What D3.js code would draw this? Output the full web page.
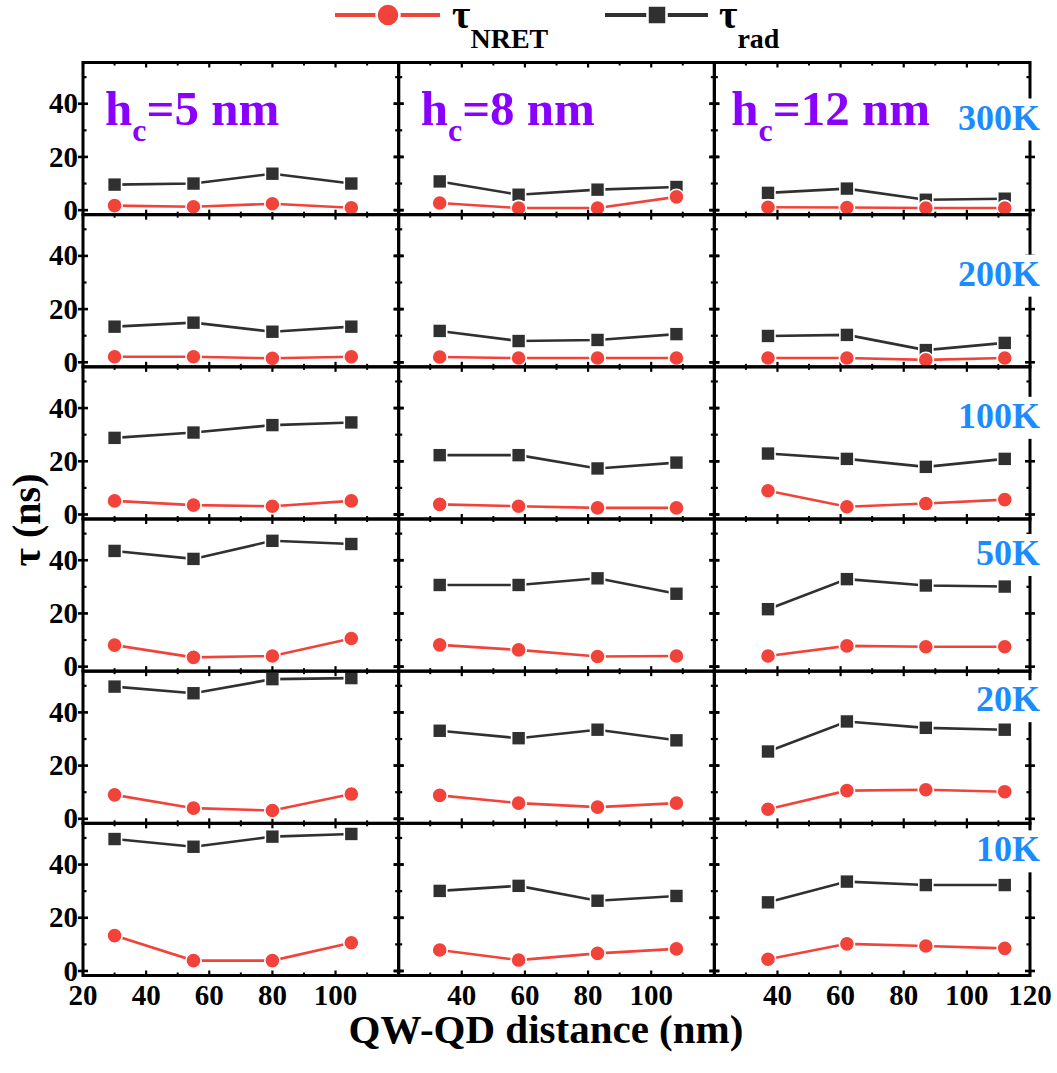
<!DOCTYPE html>
<html>
<head>
<meta charset="utf-8">
<script src="https://cdn.jsdelivr.net/npm/d3@7/dist/d3.min.js"></script>
<style>
  html, body { margin: 0; padding: 0; background: #fff; }
  svg { display: block; }
</style>
</head>
<body>
<svg id="chart" width="1057" height="1073"></svg>
<script>
// ---- data ----
const temperatures = ["300K", "200K", "100K", "50K", "20K", "10K"];
const capThickness = [5, 8, 12];               // h_c in nm, one per column
const distances = [                             // QW-QD distance (nm) per column
  [30, 55, 80, 105],
  [33, 58, 83, 108],
  [37, 62, 87, 112]
];
// lifetimes in ns, [row = temperature][column = h_c][point]
const tauNRET = [
  [[1.7, 1.3, 2.4, 0.9], [2.7, 0.8, 0.8, 5.0], [1.1, 1.0, 0.8, 0.8]],
  [[2.1, 2.1, 1.5, 2.1], [2.0, 1.6, 1.6, 1.6], [1.6, 1.6, 0.9, 1.6]],
  [[5.1, 3.5, 3.1, 5.1], [3.8, 3.1, 2.5, 2.5], [8.9, 2.9, 4.1, 5.6]],
  [[8.1, 3.5, 4.0, 10.6], [8.2, 6.3, 3.8, 4.0], [4.0, 7.8, 7.5, 7.5]],
  [[9.0, 4.0, 3.1, 9.3], [8.8, 5.9, 4.4, 5.9], [3.6, 10.6, 10.9, 10.2]],
  [[13.3, 3.9, 3.9, 10.6], [7.9, 4.1, 6.6, 8.3], [4.4, 10.2, 9.4, 8.5]]
];
const tauRad = [
  [[9.6, 10.0, 13.7, 10.0], [10.8, 5.8, 7.7, 8.7], [6.5, 8.1, 3.9, 4.3]],
  [[13.4, 14.9, 11.5, 13.4], [11.8, 8.0, 8.4, 10.6], [9.9, 10.3, 4.6, 7.3]],
  [[28.8, 30.8, 33.6, 34.6], [22.3, 22.3, 17.3, 19.5], [22.9, 20.9, 17.9, 20.9]],
  [[43.5, 40.5, 47.3, 46.1], [30.7, 30.7, 33.2, 27.4], [21.6, 32.9, 30.5, 30.1]],
  [[49.7, 47.2, 52.5, 52.9], [33.1, 30.3, 33.5, 29.5], [25.3, 36.6, 34.2, 33.5]],
  [[49.6, 46.7, 50.5, 51.5], [30.1, 32.0, 26.4, 28.2], [25.8, 33.6, 32.3, 32.3]]
];
const xTickLabels = [[20, 40, 60, 80, 100], [40, 60, 80, 100], [40, 60, 80, 100, 120]];
const yTickLabels = [0, 20, 40];
const xDomain = [20, 120];
const yDomain = [-1.7, 55.5];

// ---- layout ----
const plotLeft = 83, plotRight = 1030, plotTop = 62.5, plotBottom = 975.5;
const nCols = 3, nRows = 6;
const colW = (plotRight - plotLeft) / nCols;
const rowH = (plotBottom - plotTop) / nRows;
const tempBaselineOffset = [67, 71, 61, 46, 40, 38];
const capLabelOffset = [22, 22, 17];

const RED = "#f2433a", BLACK = "#303030", PURPLE = "#8a00ff", BLUE = "#1a8cff";
const FONT = '"Liberation Serif", "Times New Roman", serif';

const svg = d3.select("#chart");

// bold serif text helper
function label(parent, x, y, size) {
  return parent.append("text").attr("x", x).attr("y", y)
    .style("font-family", FONT).style("font-weight", "bold").style("font-size", size + "px");
}

const rowsG = svg.append("g");

for (let r = 0; r < nRows; r++) {
  for (let c = 0; c < nCols; c++) {
    const x0 = plotLeft + c * colW, y0 = plotTop + r * rowH;
    const x = d3.scaleLinear().domain(xDomain).range([x0, x0 + colW]);
    const y = d3.scaleLinear().domain(yDomain).range([y0 + rowH, y0]);
    const g = rowsG.append("g");

    // tick marks on all four sides
    const xMajor = d3.range(20, 121, 20), xMinor = d3.range(30, 120, 20);
    const yMajor = [0, 20, 40], yMinor = [10, 30, 50];
    const tk = g.append("g").attr("stroke", "#000");
    xMajor.forEach(v => {
      tk.append("line").attr("x1", x(v)).attr("x2", x(v)).attr("y1", y0 + rowH).attr("y2", y0 + rowH - 5).attr("stroke-width", 2.2);
      tk.append("line").attr("x1", x(v)).attr("x2", x(v)).attr("y1", y0).attr("y2", y0 + 5).attr("stroke-width", 2.2);
    });
    xMinor.forEach(v => {
      tk.append("line").attr("x1", x(v)).attr("x2", x(v)).attr("y1", y0 + rowH).attr("y2", y0 + rowH - 3).attr("stroke-width", 2);
      tk.append("line").attr("x1", x(v)).attr("x2", x(v)).attr("y1", y0).attr("y2", y0 + 3).attr("stroke-width", 2);
    });
    yMajor.forEach(v => {
      tk.append("line").attr("x1", x0 - 5).attr("x2", x0 + 5).attr("y1", y(v)).attr("y2", y(v)).attr("stroke-width", 2.6);
      tk.append("line").attr("x1", x0 + colW - 5).attr("x2", x0 + colW + 5).attr("y1", y(v)).attr("y2", y(v)).attr("stroke-width", 2.6);
    });
    yMinor.forEach(v => {
      tk.append("line").attr("x1", x0).attr("x2", x0 + 3.5).attr("y1", y(v)).attr("y2", y(v)).attr("stroke-width", 2.2);
      tk.append("line").attr("x1", x0 + colW - 3.5).attr("x2", x0 + colW).attr("y1", y(v)).attr("y2", y(v)).attr("stroke-width", 2.2);
    });

    // series
    const xs = distances[c];
    const series = [
      { vals: tauRad[r][c], color: BLACK, shape: "square" },
      { vals: tauNRET[r][c], color: RED, shape: "circle" }
    ];
    const line = d3.line().x(d => x(d[0])).y(d => y(d[1]));
    series.forEach(s => {
      const pts = xs.map((xv, i) => [xv, s.vals[i]]);
      g.append("path").attr("d", line(pts)).attr("fill", "none")
        .attr("stroke", s.color).attr("stroke-width", 2.6);
      if (s.shape === "circle") {
        g.selectAll(null).data(pts).enter().append("circle")
          .attr("cx", d => x(d[0])).attr("cy", d => y(d[1])).attr("r", 7.6)
          .attr("fill", s.color).attr("stroke", "#fff").attr("stroke-width", 1.6);
      } else {
        const sz = 14;
        g.selectAll(null).data(pts).enter().append("rect")
          .attr("x", d => x(d[0]) - sz / 2).attr("y", d => y(d[1]) - sz / 2)
          .attr("width", sz).attr("height", sz)
          .attr("fill", s.color).attr("stroke", "#fff").attr("stroke-width", 1.6);
      }
    });

    // y tick labels on the first column
    if (c === 0) {
      yTickLabels.forEach(v => {
        label(g, x0 - 5, y(v), 29).attr("dy", "0.33em").attr("text-anchor", "end").text(v);
      });
    }
    // x tick labels under the bottom row
    if (r === nRows - 1) {
      xTickLabels[c].forEach(v => {
        label(g, x(v), y0 + rowH + 29, 29).attr("text-anchor", "middle").text(v);
      });
    }
  }
}

// panel frames
const frames = svg.append("g").attr("fill", "none").attr("stroke", "#000").attr("stroke-width", 3);
for (let r = 0; r < nRows; r++) {
  for (let c = 0; c < nCols; c++) {
    frames.append("rect").attr("x", plotLeft + c * colW).attr("y", plotTop + r * rowH)
      .attr("width", colW).attr("height", rowH);
  }
}

// h_c labels in the top row
capThickness.forEach((h, c) => {
  const t = label(svg, plotLeft + c * colW + capLabelOffset[c], plotTop + 62.5, 49).attr("fill", PURPLE);
  t.append("tspan").text("h");
  t.append("tspan").style("font-size", "32px").attr("dy", 16).text("c");
  t.append("tspan").attr("dy", -16).text("=" + h + " nm");
});

// temperature labels, right column, on a white patch over the frame
temperatures.forEach((tl, r) => {
  const g = svg.append("g");
  const t = label(g, 1040, plotTop + r * rowH + tempBaselineOffset[r], 36)
    .attr("text-anchor", "end").attr("fill", BLUE).text(tl);
  const bb = t.node().getBBox();
  g.insert("rect", "text").attr("x", bb.x - 3).attr("y", bb.y + 1).attr("width", bb.width + 6).attr("height", bb.height + 2)
    .attr("fill", "#fff");
});

// axis titles
label(svg, 546, 1043, 41).attr("text-anchor", "middle").text("QW-QD distance (nm)");
label(svg, 0, 0, 40).attr("x", null).attr("y", null)
  .attr("transform", "translate(40,520) rotate(-90)").attr("text-anchor", "middle").text("τ (ns)");

// legend
const leg = svg.append("g");
leg.append("line").attr("x1", 335).attr("x2", 440).attr("y1", 15).attr("y2", 15).attr("stroke", RED).attr("stroke-width", 4);
leg.append("circle").attr("cx", 388).attr("cy", 15).attr("r", 11.5).attr("fill", RED).attr("stroke", "#fff").attr("stroke-width", 2.5);
const t1 = label(leg, 452, 28, 40);
t1.append("tspan").text("τ");
t1.append("tspan").style("font-size", "28px").attr("dy", 20).text("NRET");
leg.append("line").attr("x1", 605).attr("x2", 708).attr("y1", 15).attr("y2", 15).attr("stroke", BLACK).attr("stroke-width", 4);
leg.append("rect").attr("x", 657 - 9.5).attr("y", 15 - 9.5).attr("width", 19).attr("height", 19).attr("fill", BLACK).attr("stroke", "#fff").attr("stroke-width", 2.5);
const t2 = label(leg, 719, 28, 40);
t2.append("tspan").text("τ");
t2.append("tspan").style("font-size", "28px").attr("dy", 20).text("rad");
</script>
</body>
</html>
